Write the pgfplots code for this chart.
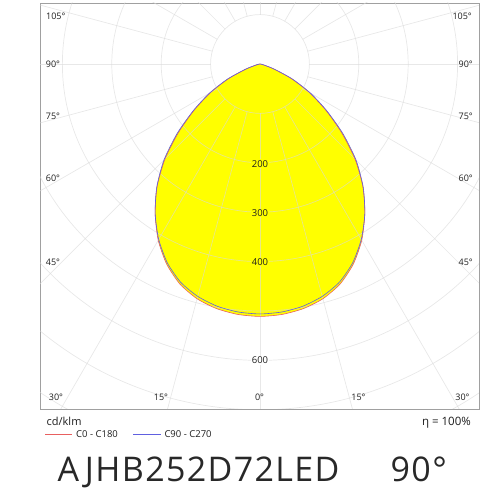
\documentclass[border=0pt]{standalone}
\usepackage{fontspec}
\setmainfont{Open Sans}
\newfontfamily\titlefont[LetterSpace=4]{Open Sans}
\usepackage{pgfplots}
\usepackage{pgfplotstable}
\pgfplotsset{compat=1.18}
\definecolor{cred}{RGB}{232,96,96}
\definecolor{cblue}{RGB}{96,96,224}
\definecolor{gridc}{RGB}{218,218,218}
\definecolor{framec}{RGB}{160,160,160}
\definecolor{fillc}{RGB}{255,255,0}
\definecolor{txt}{RGB}{30,30,30}

% C0 - C180 (negative angles: C180 side)
\pgfplotstableread{
g I
-90 0
-80 2
-75 8
-70 30
-65 70
-60 115
-55 162
-50 215
-45 272
-40 324
-35 370
-30 412
-25 447
-20 474
-15 492
-10 503
-5 509
0 511
5 509
10 503
15 492
20 474
25 447
30 412
35 370
40 324
45 272
50 215
55 162
60 115
65 70
70 30
75 8
80 2
90 0
}\redtab

% C90 - C270
\pgfplotstableread{
g I
-90 0
-80 2
-75 9
-70 32
-65 73
-60 118
-55 165
-50 219
-45 275
-40 325
-35 370
-30 410
-25 444
-20 470
-15 487
-10 498
-5 504
0 506
5 504
10 498
15 487
20 470
25 444
30 410
35 370
40 325
45 275
50 219
55 165
60 118
65 73
70 32
75 9
80 2
90 0
}\bluetab

\begin{document}
\begin{tikzpicture}[x=1pt,y=1pt]
\useasboundingbox (0,0) rectangle (500,500);
\begin{axis}[
  at={(40pt,91pt)}, anchor=south west,
  x=0.494pt, y=0.494pt,
  xmin=-445.3, xmax=443.3, ymin=-698.4, ymax=123.5,
  xtick=\empty, ytick=\empty,
  axis line style={framec, line width=0.8pt},
  clip=true,
]
\addplot[fill=fillc, draw=none, smooth, tension=0.4] table[x expr={\thisrow{I}*sin(\thisrow{g})}, y expr={-\thisrow{I}*cos(\thisrow{g})}] {\redtab};
\addplot[fill=fillc, draw=none, smooth, tension=0.4] table[x expr={\thisrow{I}*sin(\thisrow{g})}, y expr={-\thisrow{I}*cos(\thisrow{g})}] {\bluetab};
\pgfplotsinvokeforeach{0,15,...,345}{
  \draw[gridc, opacity=0.62, line width=0.7pt] (axis cs:{100*cos(#1)},{100*sin(#1)}) -- (axis cs:{1500*cos(#1)},{1500*sin(#1)});
}
\pgfplotsinvokeforeach{100,200,...,1100}{
  \draw[gridc, opacity=0.62, line width=0.7pt] (axis cs:0,0) circle[radius=#1];
}
\addplot[cred, line width=0.6pt, smooth, tension=0.4] table[x expr={\thisrow{I}*sin(\thisrow{g})}, y expr={-\thisrow{I}*cos(\thisrow{g})}] {\redtab};
\addplot[cblue, line width=0.6pt, smooth, tension=0.4] table[x expr={\thisrow{I}*sin(\thisrow{g})}, y expr={-\thisrow{I}*cos(\thisrow{g})}] {\bluetab};
\node[fill=fillc, inner sep=0.8pt, font=\fontsize{9.5}{11}\selectfont, text=txt] at (axis cs:0,-202) {200};
\node[fill=fillc, inner sep=0.8pt, font=\fontsize{9.5}{11}\selectfont, text=txt] at (axis cs:0,-302) {300};
\node[fill=fillc, inner sep=0.8pt, font=\fontsize{9.5}{11}\selectfont, text=txt] at (axis cs:0,-401) {400};
\node[fill=white, inner sep=0.8pt, font=\fontsize{9.5}{11}\selectfont, text=txt] at (axis cs:0,-600) {600};
\end{axis}
% angle labels
\begin{scope}[every node/.style={inner sep=0pt, font=\fontsize{9}{11}\selectfont, text=txt}]
\node[anchor=west] at (46,484) {105°};
\node[anchor=east] at (472,484) {105°};
\node[anchor=west] at (45.7,436) {90°};
\node[anchor=east] at (473,436) {90°};
\node[anchor=west] at (45.7,383.5) {75°};
\node[anchor=east] at (473,383.5) {75°};
\node[anchor=west] at (45.7,321.5) {60°};
\node[anchor=east] at (473,321.5) {60°};
\node[anchor=west] at (45.7,237.5) {45°};
\node[anchor=east] at (473,237.5) {45°};
\node at (56,102.7) {30°};
\node at (161,102.7) {15°};
\node at (259.5,102.7) {0°};
\node at (358.5,102.7) {15°};
\node at (462.5,102.7) {30°};
\end{scope}
% units, efficiency
\node[anchor=base west, inner sep=0pt, font=\fontsize{11}{13}\selectfont, text=txt] at (46.5,74) {cd/klm};
\node[anchor=base east, inner sep=0pt, font=\fontsize{11.5}{13}\selectfont, text=txt] at (471,74.2) {η = 100\%};
% legend
\draw[cred, line width=0.6pt] (45,66) -- (72,66);
\node[anchor=base west, inner sep=0pt, font=\fontsize{9.5}{11}\selectfont, text=txt] at (76,62.6) {C0 - C180};
\draw[cblue, line width=0.6pt] (133.3,66) -- (161,66);
\node[anchor=base west, inner sep=0pt, font=\fontsize{9.5}{11}\selectfont, text=txt] at (164.3,62.6) {C90 - C270};
% title
\node[anchor=base west, inner sep=0pt, font=\titlefont\fontsize{34}{40}\selectfont, text={rgb,255:red,40;green,40;blue,40}] at (57.5,18.3) {AJHB252D72LED};
\node[anchor=base west, inner sep=0pt, font=\titlefont\fontsize{34}{40}\selectfont, text={rgb,255:red,40;green,40;blue,40}] at (390.5,18.3) {90°};
\end{tikzpicture}
\end{document}
